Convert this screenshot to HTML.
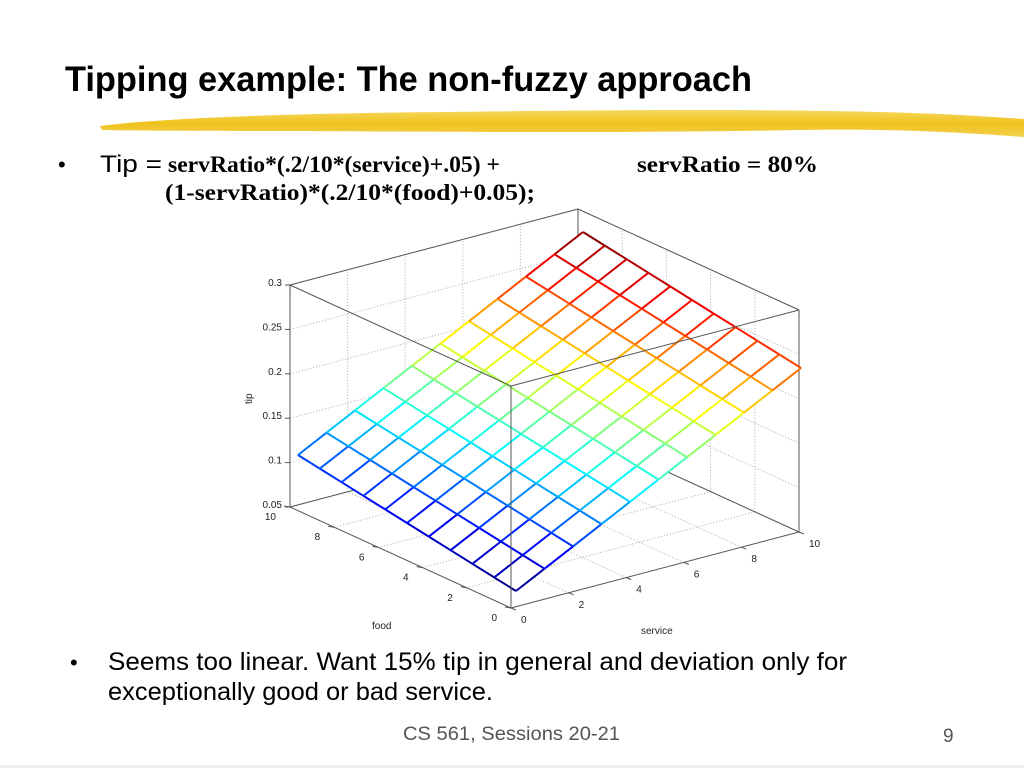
<!DOCTYPE html>
<html><head><meta charset="utf-8"><style>
html,body{margin:0;padding:0;background:#fff;}
svg{display:block}
</style></head><body>
<svg id="s" width="1024" height="768" xmlns="http://www.w3.org/2000/svg" font-family="Liberation Sans, sans-serif">
<defs>
<linearGradient id="br" x1="0" y1="0" x2="0" y2="1">
<stop offset="0" stop-color="#f6d860"/><stop offset="0.5" stop-color="#efc21c"/><stop offset="1" stop-color="#f3cf50"/>
</linearGradient>
</defs>
<rect width="1024" height="768" fill="#fff"/>
<text x="65" y="91" font-size="35" font-weight="bold" textLength="687" lengthAdjust="spacingAndGlyphs">Tipping example:  The non-fuzzy approach</text>
<path d="M100,126 C160,118 300,113 450,112 C600,110 800,108 940,114 C980,116 1010,118 1024,119 L1024,137 C980,134 900,128 800,130 C650,133 450,132 300,131 C220,131 150,131 102,130 Z" fill="url(#br)"/>
<text x="58" y="172" font-size="22">•</text>
<text x="100" y="172" font-size="24" textLength="62" lengthAdjust="spacingAndGlyphs">Tip =</text>
<text x="168" y="172" font-family="Liberation Serif, serif" font-weight="bold" font-size="23" textLength="332" lengthAdjust="spacingAndGlyphs">servRatio*(.2/10*(service)+.05) +</text>
<text x="637" y="172" font-family="Liberation Serif, serif" font-weight="bold" font-size="23" textLength="181" lengthAdjust="spacingAndGlyphs">servRatio = 80%</text>
<text x="165" y="200" font-family="Liberation Serif, serif" font-weight="bold" font-size="23" textLength="370" lengthAdjust="spacingAndGlyphs">(1-servRatio)*(.2/10*(food)+0.05);</text>
<g id="chart"></g>
<text x="70" y="670" font-size="22">•</text>
<text x="108" y="670" font-size="25" textLength="739" lengthAdjust="spacingAndGlyphs">Seems too linear.  Want 15% tip in general and deviation only for</text>
<text x="108" y="700" font-size="25" textLength="385" lengthAdjust="spacingAndGlyphs">exceptionally good or bad service.</text>
<text x="403" y="740" font-size="19" fill="#555" textLength="217" lengthAdjust="spacingAndGlyphs">CS 561,  Sessions 20-21</text>
<text x="943" y="742" font-size="19" fill="#555">9</text>
<rect x="0" y="765" width="1024" height="3" fill="#eee"/>
</svg>
<script>
(function(){
var g=document.getElementById('chart'),h='';
function P(f,s,z){return [511-22.1*f+28.8*s, 608-10.1*f-7.6*s-(z-0.05)/0.25*222];}
function L(a,b,st){h+='<line x1="'+a[0].toFixed(1)+'" y1="'+a[1].toFixed(1)+'" x2="'+b[0].toFixed(1)+'" y2="'+b[1].toFixed(1)+'" '+st+'/>';}
var box='stroke="#555" stroke-width="1"',dot='stroke="#aaa" stroke-width="1" stroke-dasharray="1,2"';
var zt=[0.05,0.1,0.15,0.2,0.25,0.3];
for(var i=2;i<=8;i+=2){
 L(P(10,i,0.05),P(10,i,0.3),dot); L(P(i,10,0.05),P(i,10,0.3),dot);
 L(P(i,0,0.05),P(i,10,0.05),dot); L(P(0,i,0.05),P(10,i,0.05),dot);
}
zt.forEach(function(z){L(P(10,0,z),P(10,10,z),dot);L(P(10,10,z),P(0,10,z),dot);});
L(P(10,0,0.05),P(10,10,0.05),box);L(P(10,10,0.05),P(0,10,0.05),box);L(P(10,10,0.05),P(10,10,0.3),box);
L(P(10,0,0.3),P(10,10,0.3),box);L(P(10,10,0.3),P(0,10,0.3),box);
L(P(10,0,0.05),P(10,0,0.3),box);L(P(0,10,0.05),P(0,10,0.3),box);
L(P(10,0,0.05),P(0,0,0.05),box);L(P(0,0,0.05),P(0,10,0.05),box);
function S(f,s){return [516-21.8*f+28.5*s, 591-13.6*f-22.3*s];}
function jet(c){function cl(x){return Math.max(0,Math.min(1,x));}
 var r=cl(1.5-Math.abs(4*c-3)),gg=cl(1.5-Math.abs(4*c-2)),b=cl(1.5-Math.abs(4*c-1));
 return 'rgb('+Math.round(r*255)+','+Math.round(gg*255)+','+Math.round(b*255)+')';}
function col(f,s){return jet((0.016*s+0.004*f)/0.2);}
var c0=S(0,0),c1=S(10,0),c2=S(10,10),c3=S(0,10);
h+='<polygon points="'+[c0,c1,c2,c3].map(function(p){return p.join(',');}).join(' ')+'" fill="#fff"/>';
for(var f=0;f<=10;f++)for(var s=0;s<=10;s++){
 if(s<10)L(S(f,s),S(f,s+1),'stroke="'+col(f,s+0.5)+'" stroke-width="2"');
 if(f<10)L(S(f,s),S(f+1,s),'stroke="'+col(f+0.5,s)+'" stroke-width="2"');
}
L(P(0,0,0.05),P(0,0,0.3),box);L(P(10,0,0.3),P(0,0,0.3),box);L(P(0,0,0.3),P(0,10,0.3),box);
var ts='font-size="10" fill="#222"';
zt.forEach(function(z){var p=P(10,0,z);L(p,[p[0]-5,p[1]],box);
 h+='<text x="'+(p[0]-8)+'" y="'+(p[1]+1)+'" text-anchor="end" '+ts+'>'+z+'</text>';});
for(var i=0;i<=10;i+=2){
 var p=P(i,0,0.05);L(p,[p[0]-6,p[1]-1],box);
 h+='<text x="'+(p[0]-14)+'" y="'+(p[1]+13)+'" text-anchor="end" '+ts+'>'+i+'</text>';
 var q=P(0,i,0.05);L(q,[q[0]+5,q[1]+2],box);
 h+='<text x="'+(q[0]+10)+'" y="'+(q[1]+15)+'" '+ts+'>'+i+'</text>';
}
h+='<text x="372" y="629" '+ts+'>food</text>';
h+='<text x="641" y="634" '+ts+'>service</text>';
h+='<text transform="translate(252,404) rotate(-90)" '+ts+'>tip</text>';
g.innerHTML=h;
})();
</script>
</body></html>
